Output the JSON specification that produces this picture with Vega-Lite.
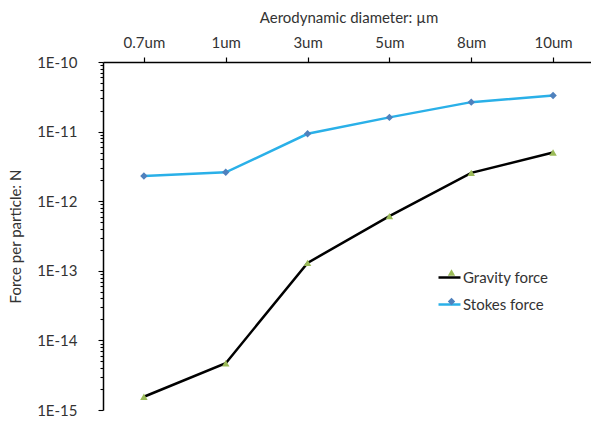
{
  "$schema": "https://vega.github.io/schema/vega-lite/v6.json",
  "autosize": "none",
  "padding": {"left": 103, "top": 62, "right": 0, "bottom": 14},
  "width": 491,
  "height": 348,
  "background": "white",
  "config": {
    "view": {"stroke": null},
    "font": "Lato",
    "axis": {"labelFont": "Lato", "titleFont": "Lato", "labelColor": "#333", "titleColor": "#333", "labelFontSize": 15, "titleFontSize": 15, "titleFontWeight": "normal", "grid": false, "domainColor": "black", "tickColor": "black", "ticks": true},
    "legend": {"labelFont": "Lato", "labelFontSize": 15, "labelColor": "#333", "padding": 0}
  },
  "data": {
    "values": [
      {"size": "0.7um", "series": "Gravity force", "marker": "Gravity force", "value": 1.55e-15},
      {"size": "1um", "series": "Gravity force", "marker": "Gravity force", "value": 4.7e-15},
      {"size": "3um", "series": "Gravity force", "marker": "Gravity force", "value": 1.3e-13},
      {"size": "5um", "series": "Gravity force", "marker": "Gravity force", "value": 6.1e-13},
      {"size": "8um", "series": "Gravity force", "marker": "Gravity force", "value": 2.55e-12},
      {"size": "10um", "series": "Gravity force", "marker": "Gravity force", "value": 5.0e-12},
      {"size": "0.7um", "series": "Stokes force", "marker": "Stokes force", "value": 2.3e-12},
      {"size": "1um", "series": "Stokes force", "marker": "Stokes force", "value": 2.6e-12},
      {"size": "3um", "series": "Stokes force", "marker": "Stokes force", "value": 9.3e-12},
      {"size": "5um", "series": "Stokes force", "marker": "Stokes force", "value": 1.6e-11},
      {"size": "8um", "series": "Stokes force", "marker": "Stokes force", "value": 2.65e-11},
      {"size": "10um", "series": "Stokes force", "marker": "Stokes force", "value": 3.3e-11}
    ]
  },
  "layer": [
    {
      "mark": {"type": "line", "strokeWidth": 2.5},
      "encoding": {
        "x": {"field": "size", "type": "ordinal", "scale": {"type": "point", "padding": 0.5, "domain": ["0.7um", "1um", "3um", "5um", "8um", "10um"]},
          "axis": {"orient": "top", "title": "Aerodynamic diameter: µm", "labelAngle": 0, "ticks": true, "tickSize": 5, "tickWidth": 1.2, "labelPadding": 7, "titlePadding": 10, "domainWidth": 1.5}},
        "y": {"field": "value", "type": "quantitative", "scale": {"type": "log", "domain": [1e-15, 1e-10], "nice": false},
          "axis": {"orient": "left", "title": "Force per particle: N",
            "values": [1e-15,2e-15,3e-15,4e-15,5e-15,6e-15,7e-15,8e-15,9e-15,1e-14,2e-14,3e-14,4e-14,5e-14,6e-14,7e-14,8e-14,9e-14,1e-13,2e-13,3e-13,4e-13,5e-13,6e-13,7e-13,8e-13,9e-13,1e-12,2e-12,3e-12,4e-12,5e-12,6e-12,7e-12,8e-12,9e-12,1e-11,2e-11,3e-11,4e-11,5e-11,6e-11,7e-11,8e-11,9e-11,1e-10],
            "labelExpr": "abs(log(datum.value)/LN10 - round(log(datum.value)/LN10)) < 0.001 ? '1E' + round(log(datum.value)/LN10) : ''",
            "labelOverlap": false,
            "ticks": true,
            "tickSize": {"condition": {"test": "abs(log(datum.value)/LN10 - round(log(datum.value)/LN10)) < 0.001", "value": 5}, "value": 3},
            "tickWidth": 1.1,
            "labelPadding": 21, "titlePadding": 13, "domainWidth": 1.5}},
        "color": {"field": "series", "type": "nominal", "scale": {"domain": ["Gravity force", "Stokes force"], "range": ["black", "#2AB0E8"]},
          "legend": {"orient": "none", "legendX": 334, "legendY": 203, "title": null, "symbolType": "stroke", "symbolSize": 484, "symbolStrokeWidth": 2.5, "rowPadding": 6, "labelOffset": 1}}
      }
    },
    {
      "mark": {"type": "point", "filled": true, "opacity": 1},
      "encoding": {
        "x": {"field": "size", "type": "ordinal"},
        "y": {"field": "value", "type": "quantitative"},
        "shape": {"field": "marker", "type": "nominal", "scale": {"range": ["triangle-up", "diamond"]},
          "legend": {"orient": "none", "legendX": 341, "legendY": 203, "title": null, "symbolSize": 55, "symbolStrokeWidth": 0, "rowPadding": 13, "labelOffset": 1, "labelExpr": "''"}},
        "fill": {"field": "marker", "type": "nominal", "scale": {"range": ["#9BBB59", "#4F81BD"]},
          "legend": {"orient": "none", "legendX": 341, "legendY": 203, "title": null, "symbolSize": 55, "symbolStrokeWidth": 0, "rowPadding": 13, "labelOffset": 1, "labelExpr": "''"}},
        "size": {"value": 55}
      }
    }
  ]
}
